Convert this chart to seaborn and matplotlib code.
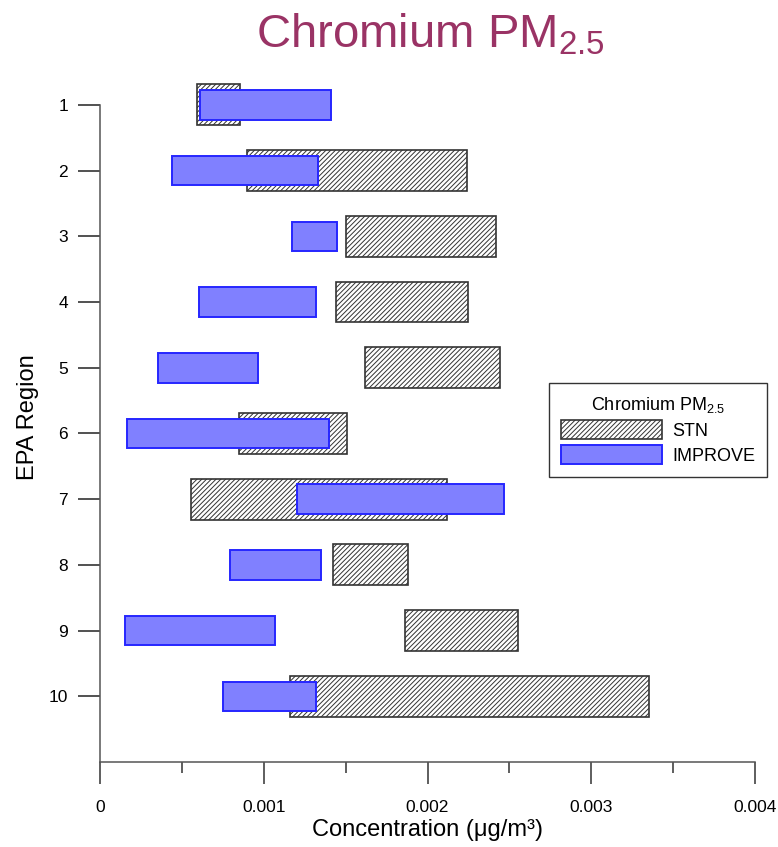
import matplotlib
matplotlib.use("Agg")
import matplotlib.pyplot as plt
import seaborn as sns
import numpy as np
import pandas as pd

regions = [1, 2, 3, 4, 5, 6, 7, 8, 9, 10]
stn_low = [0.000592, 0.000896, 0.00150, 0.00144, 0.00162, 0.000851, 0.000554, 0.00142, 0.00186, 0.00116]
stn_high = [0.000855, 0.00224, 0.00242, 0.00225, 0.00244, 0.00151, 0.00212, 0.00188, 0.00255, 0.00335]
imp_low = [0.000611, 0.000442, 0.00117, 0.000606, 0.000354, 0.000167, 0.00120, 0.000792, 0.000151, 0.000749]
imp_high = [0.00141, 0.00133, 0.00145, 0.00132, 0.000967, 0.00140, 0.00247, 0.00135, 0.00107, 0.00132]
x_ticks = [0, 0.001, 0.002, 0.003, 0.004]
x_tick_labels = ["0", "0.001", "0.002", "0.003", "0.004"]

df = pd.DataFrame({
    "region": regions,
    "stn_low": stn_low, "stn_high": stn_high,
    "imp_low": imp_low, "imp_high": imp_high,
})

sns.set_theme(style="white")
plt.rcParams["font.family"] = ["Liberation Sans", "DejaVu Sans"]
plt.rcParams["mathtext.fontset"] = "custom"
plt.rcParams["mathtext.rm"] = "Liberation Sans"
plt.rcParams["mathtext.it"] = "Liberation Sans:italic"
plt.rcParams["mathtext.bf"] = "Liberation Sans:bold"
plt.rcParams["hatch.linewidth"] = 0.7
plt.rcParams["hatch.color"] = "black"
plt.rcParams["text.color"] = "black"
plt.rcParams["axes.labelcolor"] = "black"
plt.rcParams["xtick.color"] = "black"
plt.rcParams["ytick.color"] = "black"

fig = plt.figure(figsize=(7.78, 8.47), dpi=100)
ax = fig.add_axes([100 / 778, 1 - 762 / 847, 655 / 778, (762 - 72) / 847])

stn_bars = ax.barh(df["region"], df["stn_high"] - df["stn_low"], left=df["stn_low"],
                   height=0.62, facecolor="white", edgecolor="#333333", linewidth=1.2,
                   hatch="///////", label="STN", zorder=2)
imp_bars = ax.barh(df["region"], df["imp_high"] - df["imp_low"], left=df["imp_low"],
                   height=0.45, facecolor="#8080FF", edgecolor="#2626FF", linewidth=1.4,
                   label="IMPROVE", zorder=3)

ax.set_xlim(0, 0.004)
ax.set_ylim(11, 0.5)
ax.set_xticks(x_ticks)
ax.set_xticklabels(x_tick_labels)
ax.set_xticks([0.0005, 0.0015, 0.0025, 0.0035], minor=True)
ax.set_yticks(regions)
ax.set_yticklabels([str(r) for r in regions])

sns.despine(ax=ax)
for s in ["left", "bottom"]:
    ax.spines[s].set_color("#555555")
    ax.spines[s].set_linewidth(1.1)
ax.spines["left"].set_bounds(1, 11)

ax.tick_params(axis="x", which="major", direction="out", length=16, width=1.1,
               color="#333333", labelsize=12.5, pad=11, bottom=True)
ax.tick_params(axis="x", which="minor", direction="out", length=8, width=1.1,
               color="#333333", bottom=True)
ax.tick_params(axis="y", which="major", direction="out", length=16, width=1.1,
               color="#222222", labelsize=12.5, pad=7, left=True)

ax.set_xlabel("Concentration (\u03bcg/m\u00b3)", fontsize=17, labelpad=3)
ax.set_ylabel("EPA Region", fontsize=17, labelpad=7)

fig.text(430 / 778, 1 - 35 / 847, r"Chromium PM$_\mathrm{2.5}$", fontsize=34,
         color="#9A3365", ha="center", va="center")

leg = ax.legend(handles=[stn_bars, imp_bars], labels=["STN", "IMPROVE"],
                title=r"Chromium PM$_\mathrm{2.5}$", title_fontsize=13, fontsize=13,
                loc="upper left", bbox_to_anchor=(549 / 778, 1 - 383 / 847),
                bbox_transform=fig.transFigure, frameon=True, fancybox=False,
                edgecolor="#333333", framealpha=1, borderpad=0.65,
                handlelength=5.6, handleheight=1.25, handletextpad=0.6,
                labelspacing=0.3, borderaxespad=0)
leg.get_frame().set_linewidth(1.0)

fig.savefig("out.png", dpi=100)
